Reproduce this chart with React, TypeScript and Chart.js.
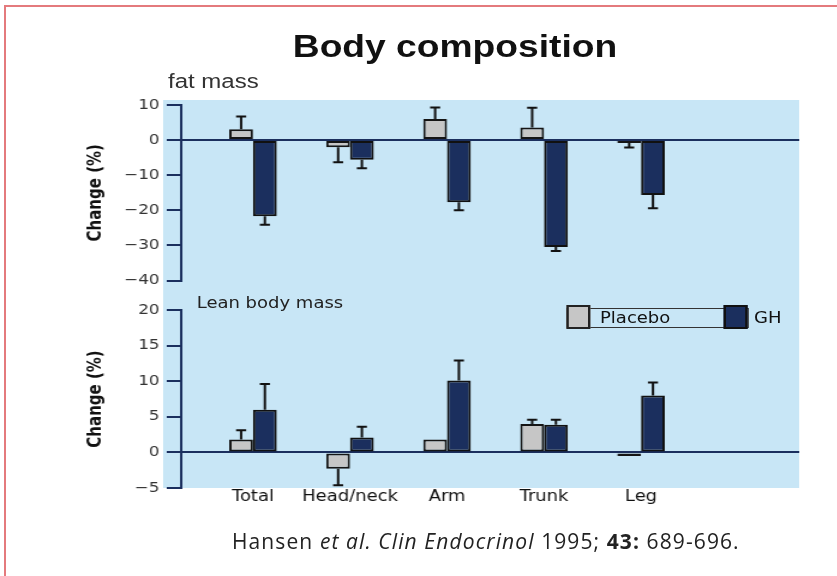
import React, { useEffect, useRef } from "react";
import { Chart, registerables } from "chart.js";

Chart.register(...registerables);

// ---------- data ----------
const categories = ["Total", "Head/neck", "Arm", "Trunk", "Leg"];
const seriesNames = ["Placebo", "GH"];

const fatPlacebo = [3.1, -2.0, 6.0, 3.6, -0.8];
const fatPlaceboErr = [3.6, 4.3, 3.3, 5.6, 1.3];
const fatGH = [-21.7, -5.6, -17.7, -30.4, -15.6];
const fatGHErr = [2.4, 2.4, 2.3, 1.2, 3.8];

const leanPlacebo = [1.8, -2.3, 1.8, 4.0, -0.5];
const leanPlaceboErr = [1.3, 2.3, 0, 0.6, 0];
const leanGH = [6.0, 2.1, 10.1, 3.9, 8.0];
const leanGHErr = [3.6, 1.5, 2.8, 0.7, 1.8];

const fatTicks = [10, 0, -10, -20, -30, -40];
const leanTicks = [20, 15, 10, 5, 0, -5];

// ---------- styles ----------
const NAVY = "#1b2f5e";
const GREY = "#c6c6c6";
const BG = "#c8e6f6";
const STRETCH = 1.2;

const errorBarPlugin = {
  id: "errorBars",
  afterDatasetsDraw(chart: any) {
    const ctx = chart.ctx;
    chart.data.datasets.forEach((ds: any, di: number) => {
      const meta = chart.getDatasetMeta(di);
      const errs: number[] = ds.errors;
      if (!errs) return;
      const yScale = chart.scales[meta.yAxisID];
      meta.data.forEach((bar: any, i: number) => {
        const e = errs[i];
        if (!e) return;
        const v = ds.data[i].y;
        const end = v >= 0 ? v + e : v - e;
        const y1 = yScale.getPixelForValue(end);
        ctx.save();
        ctx.strokeStyle = "#111";
        ctx.lineWidth = 2;
        ctx.beginPath();
        ctx.moveTo(bar.x, bar.y);
        ctx.lineTo(bar.x, y1);
        ctx.moveTo(bar.x - 4.2, y1);
        ctx.lineTo(bar.x + 4.2, y1);
        ctx.stroke();
        ctx.restore();
      });
    });
  },
};

type PanelProps = {
  placebo: number[];
  placeboErr: number[];
  gh: number[];
  ghErr: number[];
  ticks: number[];
  showX: boolean;
  top: number;
  height: number;
  padTop: number;
  padBottom: number;
};

function BarPanel(p: PanelProps) {
  const ref = useRef<HTMLCanvasElement>(null);
  useEffect(() => {
    if (!ref.current) return;
    const toPts = (arr: number[]) => arr.map((v, i) => ({ x: i, y: v }));
    const chart = new Chart(ref.current, {
      type: "bar",
      data: {
        datasets: [
          {
            label: seriesNames[0],
            data: toPts(p.placebo),
            errors: p.placeboErr,
            backgroundColor: GREY,
            borderColor: "#151515",
            borderWidth: 2,
            borderSkipped: false,
            categoryPercentage: 0.49,
            barPercentage: 1,
          } as any,
          {
            label: seriesNames[1],
            data: toPts(p.gh),
            errors: p.ghErr,
            backgroundColor: NAVY,
            borderColor: "#111",
            borderWidth: 2,
            borderSkipped: false,
            categoryPercentage: 0.49,
            barPercentage: 1,
          } as any,
        ],
      },
      options: {
        animation: false,
        responsive: false,
        maintainAspectRatio: false,
        devicePixelRatio: 1,
        layout: { padding: { left: 68, right: 32, top: p.padTop, bottom: p.padBottom } },
        plugins: { legend: { display: false }, tooltip: { enabled: false } },
        scales: {
          x: {
            type: "linear",
            offset: false,
            min: -0.74,
            max: 5.63,
            display: p.showX,
            afterBuildTicks: (s: any) => {
              s.ticks = categories.map((_, i) => ({ value: i }));
            },
            afterFit: (s: any) => {
              s.height = p.showX ? 20 : 0;
            },
            grid: { display: false, drawTicks: false },
            border: { display: false },
            ticks: {
              autoSkip: false,
              maxRotation: 0,
              padding: 0,
              color: "#111",
              font: { family: "DejaVu Sans", size: 15 },
              callback: (v: any) => categories[v as number] ?? "",
            },
          },
          y: {
            min: Math.min(...p.ticks),
            max: Math.max(...p.ticks),
            afterBuildTicks: (s: any) => {
              s.ticks = [...p.ticks].sort((a, b) => a - b).map((v) => ({ value: v }));
            },
            afterFit: (s: any) => {
              s.width = 83;
            },
            border: { display: true, color: NAVY, width: 2 },
            grid: {
              color: (c: any) => (c.tick && c.tick.value === 0 ? NAVY : "rgba(0,0,0,0)"),
              tickColor: NAVY,
              lineWidth: 2,
              tickLength: 12,
              drawTicks: true,
            },
            ticks: {
              padding: 6,
              color: "#333",
              font: { family: "DejaVu Sans", size: 14 },
              callback: (v: any) => String(v).replace("-", "\u2212"),
            },
            title: {
              display: true,
              text: "Change (%)",
              color: "#111",
              font: { family: "DejaVu Sans", size: 15, weight: "bold" },
              padding: { top: 3, bottom: 0 },
            },
          },
        },
      },
      plugins: [errorBarPlugin],
    } as any);
    return () => chart.destroy();
  }, []);
  return (
    <canvas
      ref={ref}
      width={698}
      height={p.height}
      style={{ position: "absolute", left: 0, top: p.top, width: 698, height: p.height }}
    />
  );
}

export default function App() {
  const abs = (o: any) => ({ position: "absolute" as const, margin: 0, whiteSpace: "nowrap" as const, ...o });
  const dv = "'DejaVu Sans', sans-serif";
  return (
    <div style={{ position: "fixed", left: 0, top: 0, width: 837, height: 576, background: "#fff", overflow: "hidden" }}>
      <div
        style={{
          position: "absolute",
          left: 4,
          top: 5,
          width: 840,
          height: 580,
          borderTop: "2px solid #e47a7d",
          borderLeft: "2px solid #e47a7d",
          boxSizing: "border-box",
        }}
      />
      <div
        style={{
          position: "absolute",
          left: 0,
          top: 0,
          width: 698,
          height: 576,
          transform: `scaleX(${STRETCH})`,
          transformOrigin: "0 0",
        }}
      >
        <div style={abs({ left: 135.8, top: 100, width: 530, height: 388, background: BG })} />
        <div
          style={abs({
            left: 179.2,
            top: 30.8,
            width: 400,
            textAlign: "center",
            font: "bold 31px 'Liberation Sans', Arial, sans-serif",
            lineHeight: "31px",
            color: "#111",
          })}
        >
          Body composition
        </div>
        <div style={abs({ left: 140, top: 71.4, font: "20px 'Liberation Sans', Arial, sans-serif", lineHeight: "20px", color: "#333" })}>
          fat mass
        </div>
        <BarPanel
          placebo={fatPlacebo}
          placeboErr={fatPlaceboErr}
          gh={fatGH}
          ghErr={fatGHErr}
          ticks={fatTicks}
          showX={false}
          top={90}
          height={205}
          padTop={15}
          padBottom={14}
        />
        <BarPanel
          placebo={leanPlacebo}
          placeboErr={leanPlaceboErr}
          gh={leanGH}
          ghErr={leanGHErr}
          ticks={leanTicks}
          showX={true}
          top={295}
          height={225}
          padTop={15}
          padBottom={12}
        />
        <div style={abs({ left: 163.9, top: 296, font: `15px ${dv}`, lineHeight: "15px", color: "#222" })}>Lean body mass</div>
        {/* legend */}
        <div style={abs({ left: 471.7, top: 307.7, width: 152, height: 20.5, border: "1.5px solid #333", boxSizing: "border-box" })} />
        <div style={abs({ left: 471.7, top: 305, width: 20, height: 24, background: GREY, border: "2px solid #222", boxSizing: "border-box" })} />
        <div style={abs({ left: 603.3, top: 305, width: 20, height: 24, background: NAVY, border: "2px solid #111", boxSizing: "border-box" })} />
        <div style={abs({ left: 500, top: 310.6, font: `15px ${dv}`, lineHeight: "15px", color: "#111" })}>{seriesNames[0]}</div>
        <div style={abs({ left: 628.3, top: 310.6, font: `15px ${dv}`, lineHeight: "15px", color: "#111" })}>{seriesNames[1]}</div>
      </div>
      <div
        style={abs({
          left: 232,
          top: 531,
          font: "21px 'Open Sans', sans-serif",
          lineHeight: "21px",
          letterSpacing: "1.1px",
          color: "#222",
        })}
      >
        Hansen <i>et al.</i> <i>Clin Endocrinol</i> 1995; <b>43:</b> 689-696.
      </div>
    </div>
  );
}
